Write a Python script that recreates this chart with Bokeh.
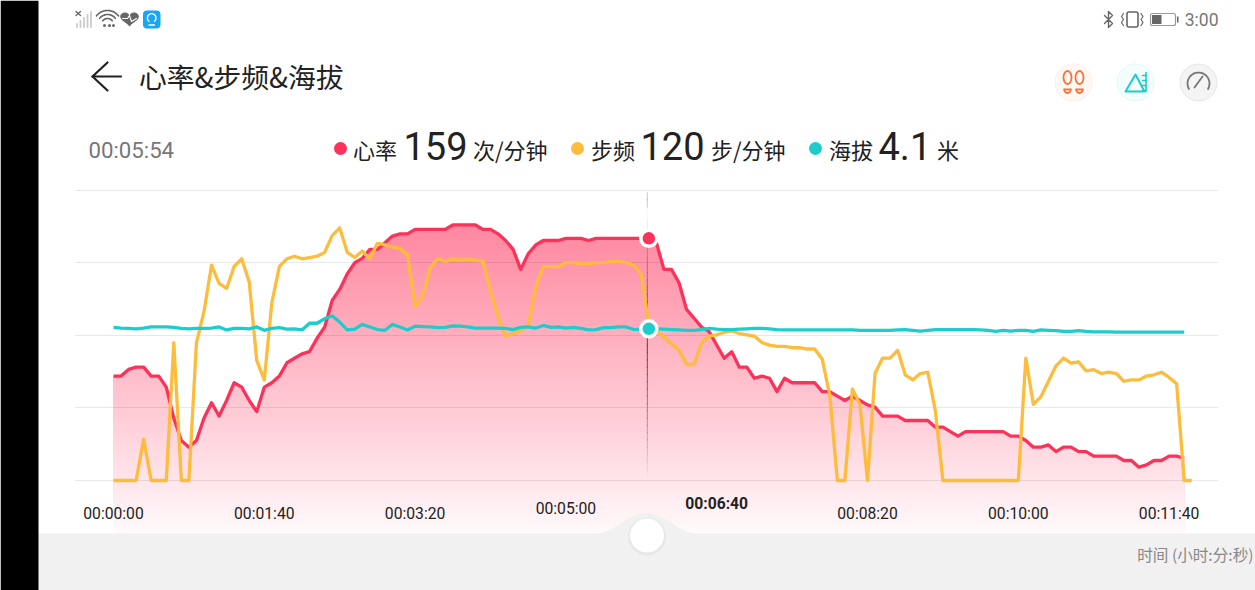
import numpy as np
from bokeh.plotting import figure
from bokeh.models import Range1d
from bokeh.core.properties import value
from bokeh.embed import file_html
from bokeh.resources import INLINE

# ---- chart data, one sample every 5 seconds ----
heart_rate = [97,97,100,101,101,97,97,92,78,68,65,68,78,85,79,86,94,92,86,81,92,94,97,103,105,107,108,114,119,131,136,143,148,150,
              154,154,157,160,161,161,163,163,163,163,163,165,165,165,165,163,163,161,158,154,145,152,156,158,158,158,159,159,159,158,159,159,159,159,159,159,159,159,
              157,145,145,139,127,123,119,117,111,105,108,101,101,96,97,96,90,96,94,94,94,94,90,90,88,86,88,86,84,83,79,79,79,77,
              77,77,77,74,74,72,70,72,72,72,72,72,72,70,70,68,65,65,66,63,65,65,63,63,61,61,61,61,59,59,56,57,59,59,61,61,60]
cadence = [0,0,0,0,32,0,0,0,107,0,0,107,131,167,153,149,166,172,154,93,78,138,166,172,174,172,173,174,177,190,196,177,173,178,
           172,184,183,181,180,175,135,143,165,172,170,172,171,172,171,170,147,127,112,114,116,120,150,166,166,166,169,169,168,168,169,169,170,170,169,167,160,120,
           116,111,106,101,90,90,107,112,113,115,116,114,113,112,107,105,104,104,103,103,102,102,94,66,0,0,71,59,0,83,95,95,101,82,
           78,83,84,54,0,0,0,0,0,0,0,0,0,0,0,95,59,65,77,89,95,91,92,85,86,83,84,83,77,78,78,81,82,84,80,75,0,0]
altitude = [4.12,4.10,4.09,4.08,4.10,4.13,4.13,4.13,4.12,4.09,4.08,4.09,4.09,4.10,4.13,4.05,4.09,4.09,4.08,4.13,4.04,4.09,4.11,4.07,4.08,4.05,4.23,4.23,4.35,4.43,4.26,4.05,4.07,4.20,
            4.13,4.06,4.04,4.20,4.13,4.05,4.15,4.14,4.13,4.11,4.12,4.16,4.15,4.13,4.10,4.10,4.10,4.10,4.09,4.06,4.12,4.13,4.10,4.17,4.12,4.13,4.10,4.12,4.09,4.05,4.06,4.11,4.11,4.13,4.13,4.06,4.07,4.08,
            4.08,4.07,4.06,4.05,4.04,4.04,4.06,4.09,4.07,4.06,4.06,4.07,4.08,4.09,4.09,4.08,4.06,4.05,4.05,4.05,4.05,4.05,4.05,4.05,4.05,4.05,4.05,4.04,4.04,4.04,4.04,4.04,4.05,4.06,
            4.04,4.02,4.04,4.06,4.06,4.06,4.06,4.06,4.06,4.05,4.04,4.01,4.04,4.02,4.04,4.04,4.01,4.05,4.04,4.03,4.01,4.01,4.03,4.01,4.00,4.00,4.00,3.99,3.99,3.99,3.99,3.99,3.99,3.99,3.99,3.99,3.99]
STEP_S = 5
tick_seconds = [0,100,200,300,400,500,600,700]
tick_labels = ["00:00:00","00:01:40","00:03:20","00:05:00","00:06:40","00:08:20","00:10:00","00:11:40"]
tick_lift = [0,0,0,5,10,0,0,0]
sel_time = 354
sel_index = 71

RED, YEL, TEAL = "#fb3259", "#fdbc3c", "#1fcccc"
CJK = value("Noto Sans CJK SC")
ROB = value("Roboto")
W, H = 1255, 590
BASE = 480   # pixel row of the zero line

def fit(v0, k):
    return Range1d(start=v0-(H-BASE)/k, end=v0+BASE/k)

k_t = 1.508
p = figure(width=W, height=H, output_backend="svg", toolbar_location=None,
           x_range=Range1d(-113/k_t, (W-113)/k_t), y_range=Range1d(H, 0),
           min_border=0, outline_line_color=None, background_fill_color="white",
           border_fill_color="white")
p.margin = (0, 0, 0, 0)
p.axis.visible = False
p.grid.visible = False
p.extra_x_ranges = {"px": Range1d(0, W)}
p.extra_y_ranges = {"hr": fit(50, 2.222), "cad": fit(0, 1.289), "alt": fit(0, 37.18)}

S = dict(x_range_name="px")

def t(x, y, s, size, color="#222222", font=CJK, align="left", weight="normal"):
    p.text(x=[x], y=[y], text=[s], text_font=font, text_font_size=f"{size}px", text_color=color,
           text_align=align, text_baseline="middle", text_font_style=weight, **S)

def ln(xs, ys, color, w=1.5, alpha=1.0):
    p.line(xs, ys, line_color=color, line_width=w, line_alpha=alpha, line_cap="round", line_join="round", **S)

def arc(cx, cy, r, a0, a1, color, w=1.5, n=24, ry=None):
    a = np.radians(np.linspace(a0, a1, n))
    ln(cx+r*np.cos(a), cy-(ry or r)*np.sin(a), color, w)

# ---- area with a vertical gradient, painted from the top level downward ----
hr = np.array(heart_rate, dtype=float)
sec = np.arange(len(hr))*STEP_S
c_top = np.array([255, 136, 160]); c_bot = np.array([255, 250, 251])
levels = np.arange(166, 26, -1.0)
for lv in levels:
    f = (166-lv)/(166-27)
    c = c_top+(c_bot-c_top)*f**1.05
    p.varea(x=sec, y1=np.full(len(sec), 26.0), y2=np.minimum(hr, lv),
            fill_color="#%02x%02x%02x" % tuple(int(v) for v in c), y_range_name="hr")

# grid
for gy in [190, 262, 335, 407, 480]:
    ln([75, 1217], [gy, gy], "#000000", 1, 0.09)

# crosshair
ch_x = 113+k_t*sel_time
ys = np.linspace(192, 476, 40)
for a, b in zip(ys[:-1], ys[1:]):
    m = (a+b)/2
    al = max(0.05, 0.85*(1-abs(m-345)/135)) if m > 210 else 0.25
    ln([ch_x, ch_x], [a, b], "#333333", 1, al)

# series
ph_t = np.arange(len(altitude))*STEP_S
p.line(sec, hr, line_color=RED, line_width=3.3, line_join="round", y_range_name="hr")
p.line(np.arange(len(cadence))*STEP_S, cadence, line_color=YEL, line_width=3.3, line_join="round", y_range_name="cad")
p.line(ph_t, altitude, line_color=TEAL, line_width=3.3, line_join="round", y_range_name="alt")
p.scatter([sel_index*STEP_S], [heart_rate[sel_index]], size=16, fill_color=RED, line_color="white", line_width=3.5, y_range_name="hr")
p.scatter([sel_index*STEP_S], [altitude[sel_index]], size=16, fill_color=TEAL, line_color="white", line_width=3.5, y_range_name="alt")

# bottom panel with raised notch
xs = np.linspace(595, 697, 60)
bump = 533-20.5*(0.5+0.5*np.cos((xs-646)/51*np.pi))
px = np.concatenate([[38], xs, [W, W, 38]])
py = np.concatenate([[533], bump, [533, H, H]])
p.patch(px, py, fill_color="#f1f1f1", line_color=None, **S)
p.scatter([646.5], [536], size=38, fill_color="#000000", fill_alpha=0.04, line_color=None, **S)
p.scatter([646.5], [535], size=34, fill_color="white", line_color=None, **S)

# tick labels
for s, lab, lift in zip(tick_seconds, tick_labels, tick_lift):
    p.text(x=[s], y=[513-lift], text=[lab], text_font=ROB, text_font_size="15.7px", text_color="#222222",
           text_align="center", text_baseline="middle", text_font_style="bold" if lift == 10 else "normal")
t(1253, 553.5, "时间 (小时:分:秒)", 15.6, "#888888", align="right")

# black bezel
p.quad(left=[0], right=[38], top=[0], bottom=[H], fill_color="black", line_color=None, **S)

# status bar left
for x, h in zip([76.5, 80, 83.5, 87, 90.5], [3, 6, 9, 12, 15]):
    ln([x, x], [26.5, 26.5-h], "#cccccc", 1.8)
ln([75.5, 80], [11, 15], "#666666", 1.3)
ln([75.5, 80], [15, 11], "#666666", 1.3)
for r in [14, 10, 6]:
    arc(107, 24, r, 38, 142, "#666666", 1.6)
p.scatter([104, 109, 113], [25, 25, 25], size=3, fill_color="#666666", line_color=None, **S)
ha = np.linspace(0, 2*np.pi, 60)
p.patch(129+0.58*16*np.sin(ha)**3, 18-0.5*(13*np.cos(ha)-5*np.cos(2*ha)-2*np.cos(3*ha)-np.cos(4*ha)),
        fill_color="#666666", line_color=None, **S)
ln([122, 127, 129, 131, 136], [18, 18, 15, 21, 18], "white", 1.1)
p.quad(left=[142.5], right=[160], top=[10], bottom=[28], fill_color="#18a6f7", line_color=None, border_radius=4, **S)
arc(151.2, 17.5, 4.3, -50, 230, "white", 1.3)
ln([148.5, 154], [24.5, 24.5], "white", 1.3)

# status bar right
ln([1104, 1112, 1108, 1108, 1112, 1104], [15, 23, 27, 11, 15, 23], "#666666", 1.4)
p.quad(left=[1126.5], right=[1137.5], top=[11.5], bottom=[26.5], fill_color=None, line_color="#666666", line_width=1.6, border_radius=2, **S)
ln([1123, 1121, 1123, 1121, 1123], [13, 16, 19, 22, 25], "#666666", 1.2)
ln([1140.5, 1142.5, 1140.5, 1142.5, 1140.5], [13, 16, 19, 22, 25], "#666666", 1.2)
p.quad(left=[1150], right=[1175], top=[13], bottom=[25], fill_color=None, line_color="#999999", line_width=1.2, border_radius=2, **S)
p.quad(left=[1151.5], right=[1161], top=[14.5], bottom=[23.5], fill_color="#666666", line_color=None, **S)
p.quad(left=[1176.5], right=[1178], top=[16], bottom=[22], fill_color="#666666", line_color=None, **S)
t(1218, 19, "3:00", 17.5, "#777777", ROB, "right")

# header
ln([120.5, 92, 107], [76, 76, 62], "#222222", 2.2)
ln([92, 107], [76, 90], "#222222", 2.2)
t(138.5, 75.5, "心率&步频&海拔", 27.8, "#222222", CJK, weight="normal")

# top-right round icons
for cx, fc, lc in [(1073, "#fff8f5", "#fdeee8"), (1135, "#f3fdfd", "#e3f8f8"), (1198, "#f4f4f4", "#e6e6e6")]:
    p.scatter([cx], [82], size=37, fill_color=fc, line_color=lc, line_width=1, **S)
OR = "#f8733c"
for cx in [1067, 1079]:
    arc(cx, 77, 4, 0, 360, OR, 1.8, ry=6.5)
    arc(cx, 89, 3.2, 180, 360, OR, 1.8, ry=3.5)
    ln([cx-3.2, cx+3.2], [89, 89], OR, 1.8)
ln([1125, 1135, 1144, 1125], [91, 74, 91, 91], "#1fcccc", 2)
ln([1145.5, 1145.5], [72, 91], "#1fcccc", 1.6)
for yy in [75, 80, 85, 90]:
    ln([1142, 1145.5], [yy, yy], "#1fcccc", 1.6)
arc(1198, 83, 11, -30, 210, "#777777", 1.8)
ln([1194, 1202], [87, 76], "#777777", 1.8)

# readout row
t(88, 149.5, "00:05:54", 22.2, "#777777", ROB)
p.scatter([340, 577, 815], [148, 148, 148], size=13, fill_color=[RED, YEL, TEAL], line_color=None, **S)
t(352.5, 148, "心率", 22)
t(403, 145.5, "159", 38, "#222222", ROB)
t(472.5, 148, "次/分钟", 22)
t(590.5, 148, "步频", 22)
t(640, 145.5, "120", 38, "#222222", ROB)
t(710.5, 148, "步/分钟", 22)
t(828.5, 148, "海拔", 22)
t(878, 145.5, "4.1", 38, "#222222", ROB)
t(936.5, 148, "米", 22)

open("out.html", "w").write(file_html(p, INLINE))
